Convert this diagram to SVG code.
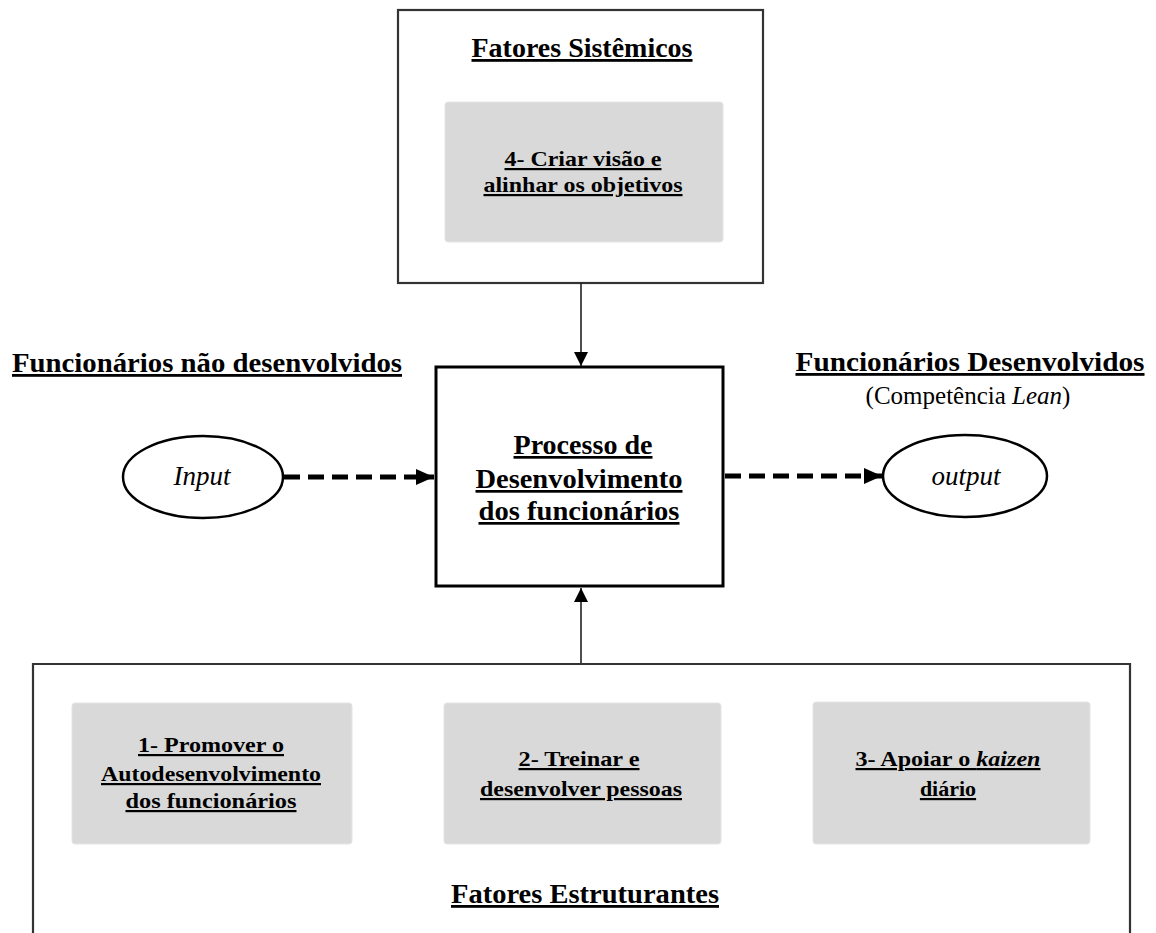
<svg xmlns="http://www.w3.org/2000/svg" width="1156" height="933" viewBox="0 0 1156 933">
  <defs>
    <style>
      .frame { fill: #ffffff; stroke: #333333; stroke-width: 2.2; }
      .main { fill: #ffffff; stroke: #000000; stroke-width: 3; }
      .factor { fill: #d9d9d9; stroke: #e4e4e4; stroke-width: 1; }
      .oval { fill: #ffffff; stroke: #000000; stroke-width: 2.5; }
      .lbl { font-family: "Liberation Serif", "Times New Roman", serif; font-weight: bold; text-decoration: underline; fill: #000000; text-anchor: middle; }
      .head { font-size: 28px; }
      .box { font-size: 22px; }
      .mid { font-size: 27px; }
      .io { font-family: "Liberation Serif", "Times New Roman", serif; font-style: italic; font-size: 27px; fill: #000000; text-anchor: middle; }
      .note { font-family: "Liberation Serif", "Times New Roman", serif; font-size: 25px; fill: #000000; text-anchor: middle; }
      .thin { stroke: #222222; stroke-width: 1.6; fill: none; }
      .dash { stroke: #000000; stroke-width: 5; stroke-dasharray: 16 8; fill: none; }
    </style>
    <marker id="headSmall" markerUnits="userSpaceOnUse" markerWidth="14" markerHeight="16" viewBox="0 0 14 16" refX="14" refY="7" orient="auto">
      <path d="M0,0 L14,7 L0,14 Z" fill="#000000"/>
    </marker>
    <marker id="headBold" markerUnits="userSpaceOnUse" markerWidth="18" markerHeight="18" viewBox="0 0 18 18" refX="18" refY="9" orient="auto">
      <path d="M0,1 L18,9 L0,17 Z" fill="#000000"/>
    </marker>
  </defs>

  <!-- systemic factors (top) -->
  <g id="fatores-sistemicos">
    <rect class="frame" x="398" y="10" width="365" height="273"/>
    <text class="lbl head" x="582" y="57" textLength="221" lengthAdjust="spacingAndGlyphs">Fatores Sistêmicos</text>
  </g>
  <g id="fator-4">
    <rect class="factor" x="445" y="102" width="278" height="140" rx="3"/>
    <text class="lbl box" x="583" y="166" textLength="157" lengthAdjust="spacingAndGlyphs">4- Criar visão e</text>
    <text class="lbl box" x="583" y="192" textLength="199" lengthAdjust="spacingAndGlyphs">alinhar os objetivos</text>
  </g>

  <!-- side headings -->
  <g id="label-entrada">
    <text class="lbl head" x="207" y="372" textLength="390" lengthAdjust="spacingAndGlyphs">Funcionários não desenvolvidos</text>
  </g>
  <g id="label-saida">
    <text class="lbl head" x="970" y="371" textLength="349" lengthAdjust="spacingAndGlyphs">Funcionários  Desenvolvidos</text>
    <text class="note" x="968" y="404">(Competência <tspan font-style="italic">Lean</tspan>)</text>
  </g>

  <!-- input / output -->
  <g id="input">
    <ellipse class="oval" cx="203" cy="477" rx="80" ry="41"/>
    <text class="io" x="202" y="485">Input</text>
  </g>
  <g id="output">
    <ellipse class="oval" cx="965" cy="476" rx="82" ry="41"/>
    <text class="io" x="966" y="485">output</text>
  </g>

  <!-- central process -->
  <g id="processo">
    <rect class="main" x="436" y="367" width="287" height="219"/>
    <text class="lbl mid" x="583" y="454" textLength="139" lengthAdjust="spacingAndGlyphs">Processo de</text>
    <text class="lbl mid" x="579" y="488" textLength="207" lengthAdjust="spacingAndGlyphs">Desenvolvimento</text>
    <text class="lbl mid" x="579" y="520" textLength="201" lengthAdjust="spacingAndGlyphs">dos funcionários</text>
  </g>

  <!-- structuring factors (bottom) -->
  <g id="fatores-estruturantes">
    <path class="frame" d="M33,940 V664 H1130 V940"/>
    <text class="lbl head" x="585" y="903" textLength="268" lengthAdjust="spacingAndGlyphs">Fatores Estruturantes</text>
  </g>
  <g id="fator-1">
    <rect class="factor" x="72" y="703" width="280" height="141" rx="3"/>
    <text class="lbl box" x="211" y="752" textLength="146" lengthAdjust="spacingAndGlyphs">1- Promover o</text>
    <text class="lbl box" x="211" y="781" textLength="220" lengthAdjust="spacingAndGlyphs">Autodesenvolvimento</text>
    <text class="lbl box" x="211" y="808" textLength="171" lengthAdjust="spacingAndGlyphs">dos funcionários</text>
  </g>
  <g id="fator-2">
    <rect class="factor" x="444" y="703" width="277" height="141" rx="3"/>
    <text class="lbl box" x="579" y="766" textLength="121" lengthAdjust="spacingAndGlyphs">2- Treinar e</text>
    <text class="lbl box" x="581" y="796" textLength="202" lengthAdjust="spacingAndGlyphs">desenvolver pessoas</text>
  </g>
  <g id="fator-3">
    <rect class="factor" x="813" y="702" width="277" height="142" rx="3"/>
    <text class="lbl box" x="948" y="766" textLength="185" lengthAdjust="spacingAndGlyphs">3- Apoiar o <tspan font-style="italic">kaizen</tspan></text>
    <text class="lbl box" x="948" y="796">diário</text>
  </g>

  <!-- connectors -->
  <g id="connectors">
    <line class="thin" x1="581" y1="283" x2="581" y2="366" marker-end="url(#headSmall)"/>
    <line class="thin" x1="581" y1="663" x2="581" y2="588" marker-end="url(#headSmall)"/>
    <line class="dash" x1="284" y1="477" x2="434" y2="477" marker-end="url(#headBold)"/>
    <line class="dash" x1="725" y1="476" x2="882" y2="476" marker-end="url(#headBold)"/>
  </g>
</svg>
